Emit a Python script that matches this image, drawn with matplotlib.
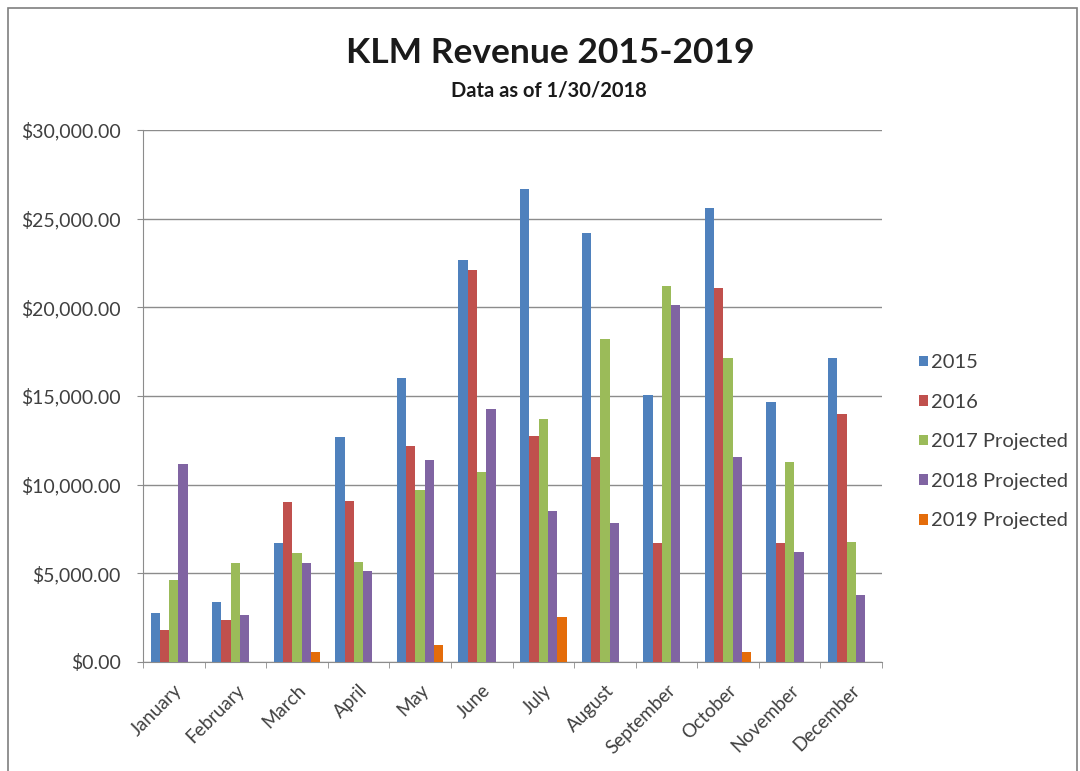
import numpy as np
import matplotlib.pyplot as plt
import matplotlib.transforms as mtransforms
from matplotlib.patches import Rectangle
from matplotlib.ticker import FuncFormatter, MultipleLocator

# Veriler (grafikten okunan tahmini degerler)
months = ['January', 'February', 'March', 'April', 'May', 'June', 'July',
          'August', 'September', 'October', 'November', 'December']
series_names = ['2015', '2016', '2017 Projected', '2018 Projected', '2019 Projected']
rev_2015 = [2750, 3370, 6730, 12690, 16020, 22690, 26700, 24180, 15060, 25620, 14660, 17170]
rev_2016 = [1810, 2370, 9040, 9100, 12190, 22090, 12770, 11550, 6690, 21080, 6690, 13960]
rev_2017 = [4620, 5580, 6120, 5620, 9720, 10740, 13700, 18230, 21190, 17170, 11250, 6770]
rev_2018 = [11190, 2670, 5560, 5120, 11410, 14260, 8490, 7830, 20120, 11550, 6230, 3760]
rev_2019 = [0, 0, 560, 0, 960, 0, 2510, 0, 0, 560, 0, 0]
colors = ['#4F81BD', '#C0504D', '#9BBB59', '#8064A2', '#E46C0A']

plt.rcParams['font.family'] = ['Lato', 'DejaVu Sans']

fig = plt.figure(figsize=(10.8, 7.71), dpi=100)
ax = fig.add_axes([0.1324, 0.1414, 0.6843, 0.69])

x = np.arange(len(months))
width = 0.151
for i, (vals, name) in enumerate(zip([rev_2015, rev_2016, rev_2017, rev_2018, rev_2019], series_names)):
    ax.bar(x + (i - 2) * width, vals, width, color=colors[i], label=name, zorder=3)

ax.set_xlim(-0.5, len(months) - 0.5)
ax.set_ylim(0, 30000)
ax.yaxis.set_major_locator(MultipleLocator(5000))
ax.yaxis.set_major_formatter(FuncFormatter(lambda v, p: '${:,.2f}'.format(v)))
ax.grid(axis='y', color='#8c8c8c', linewidth=1, zorder=0)

ax.set_xticks(x)
ax.set_xticklabels(months, rotation=45, ha='right', rotation_mode='anchor',
                   fontsize=13.5, color='#404040')
# etiketleri biraz saga kaydir
offset = mtransforms.ScaledTranslation(6 / 100, 0, fig.dpi_scale_trans)
for lbl in ax.get_xticklabels():
    lbl.set_transform(lbl.get_transform() + offset)
ax.set_xticks(np.arange(-0.5, len(months)), minor=True)
ax.tick_params(axis='x', which='major', length=0, pad=14)
ax.tick_params(axis='x', which='minor', length=4, color='#8c8c8c')
ax.tick_params(axis='y', length=4, color='#8c8c8c', labelsize=14, labelcolor='#404040', pad=12)

for side in ['top', 'right']:
    ax.spines[side].set_visible(False)
for side in ['left', 'bottom']:
    ax.spines[side].set_color('#8c8c8c')

leg = ax.legend(loc='center left', bbox_to_anchor=(1.025, 0.414), frameon=False,
                fontsize=14.5, handlelength=0.45, handleheight=0.45, handletextpad=0.15,
                labelspacing=1.12, labelcolor='#404040')

fig.text(0.51, 0.931, 'KLM Revenue 2015-2019', ha='center', va='center',
         fontsize=25.5, fontweight='bold', color='#1a1a1a')
fig.text(0.508, 0.882, 'Data as of 1/30/2018', ha='center', va='center',
         fontsize=14.5, fontweight='bold', color='#1a1a1a')

# cerceve
fig.patches.append(Rectangle((8 / 1080, -0.1), 1069 / 1080, 1.1 - 8 / 771,
                             transform=fig.transFigure, fill=False,
                             edgecolor='#7f7f7f', linewidth=1.2))

fig.savefig('out.png', dpi=100)
